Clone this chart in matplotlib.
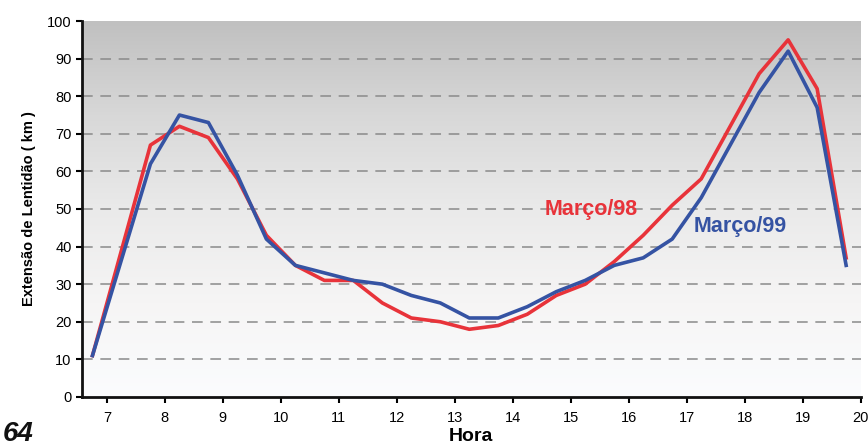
import numpy as np
import matplotlib
matplotlib.use('Agg')
import matplotlib.pyplot as plt
from matplotlib.colors import LinearSegmentedColormap

plt.rcParams['font.family'] = ['Liberation Sans', 'DejaVu Sans']

# Hora (half-hour readings)
hora = [6.75, 7.75, 8.25, 8.75, 9.25, 9.75, 10.25, 10.75, 11.25, 11.75,
        12.25, 12.75, 13.25, 13.75, 14.25, 14.75, 15.25, 15.75, 16.25,
        16.75, 17.25, 17.75, 18.25, 18.75, 19.25, 19.75]
marco98 = [11, 67, 72, 69, 58, 43, 35, 31, 31, 25, 21, 20, 18, 19, 22, 27,
           30, 36, 43, 51, 58, 72, 86, 95, 82, 37]
marco99 = [11, 62, 75, 73, 59, 42, 35, 33, 31, 30, 27, 25, 21, 21, 24, 28,
           31, 35, 37, 42, 53, 67, 81, 92, 77, 35]
x_ticks = list(range(7, 21))
y_ticks = list(range(0, 101, 10))

fig = plt.figure(figsize=(8.68, 4.48), dpi=100)
ax = fig.add_axes([0.0945, 0.114, 0.897, 0.839])

# gray (top) to white (bottom) gradient background
cmap = LinearSegmentedColormap.from_list(
    'bg', ['#c0c0c0', '#d8d8d8', '#eaeaea', '#f6f5f5', '#fbfcfe'])
grad = np.linspace(0, 1, 256).reshape(-1, 1)
ax.imshow(grad, cmap=cmap, aspect='auto', extent=[6.57, 20, 0, 100],
          zorder=0, vmin=0, vmax=1)

for yv in y_ticks[1:-1]:
    ax.axhline(yv, color='#8a8a8a', lw=1.1, ls=(0, (7, 5)), zorder=1)

ax.plot(hora, marco98, color='#e8333a', lw=2.6, zorder=3)
ax.plot(hora, marco99, color='#3553a3', lw=2.6, zorder=4)

ax.text(15.36, 49.8, 'Março/98', color='#e8333a', fontsize=15.5,
        fontweight='bold', ha='center', va='center', zorder=5)
ax.text(17.93, 45.3, 'Março/99', color='#3553a3', fontsize=15.5,
        fontweight='bold', ha='center', va='center', zorder=5)

ax.set_xlim(6.57, 20)
ax.set_ylim(0, 100)
ax.set_xticks(x_ticks)
ax.set_yticks(y_ticks)
ax.tick_params(axis='both', labelsize=10.5, direction='out', length=4,
               width=1.5, color='black')
ax.tick_params(axis='x', pad=6)

for s in ['top', 'right']:
    ax.spines[s].set_visible(False)
for s in ['left', 'bottom']:
    ax.spines[s].set_linewidth(2)
    ax.spines[s].set_color('#111111')

ax.set_ylabel('Extensão de Lentidão ( km )', fontsize=10.5, fontweight='bold',
              labelpad=8)
ax.set_xlabel('Hora', fontsize=14, fontweight='bold', labelpad=2)

fig.text(0.003, 0.002, '64', fontsize=20, fontweight='bold', style='italic',
         color='#111111', ha='left', va='bottom')

fig.savefig('out.png', dpi=100)
